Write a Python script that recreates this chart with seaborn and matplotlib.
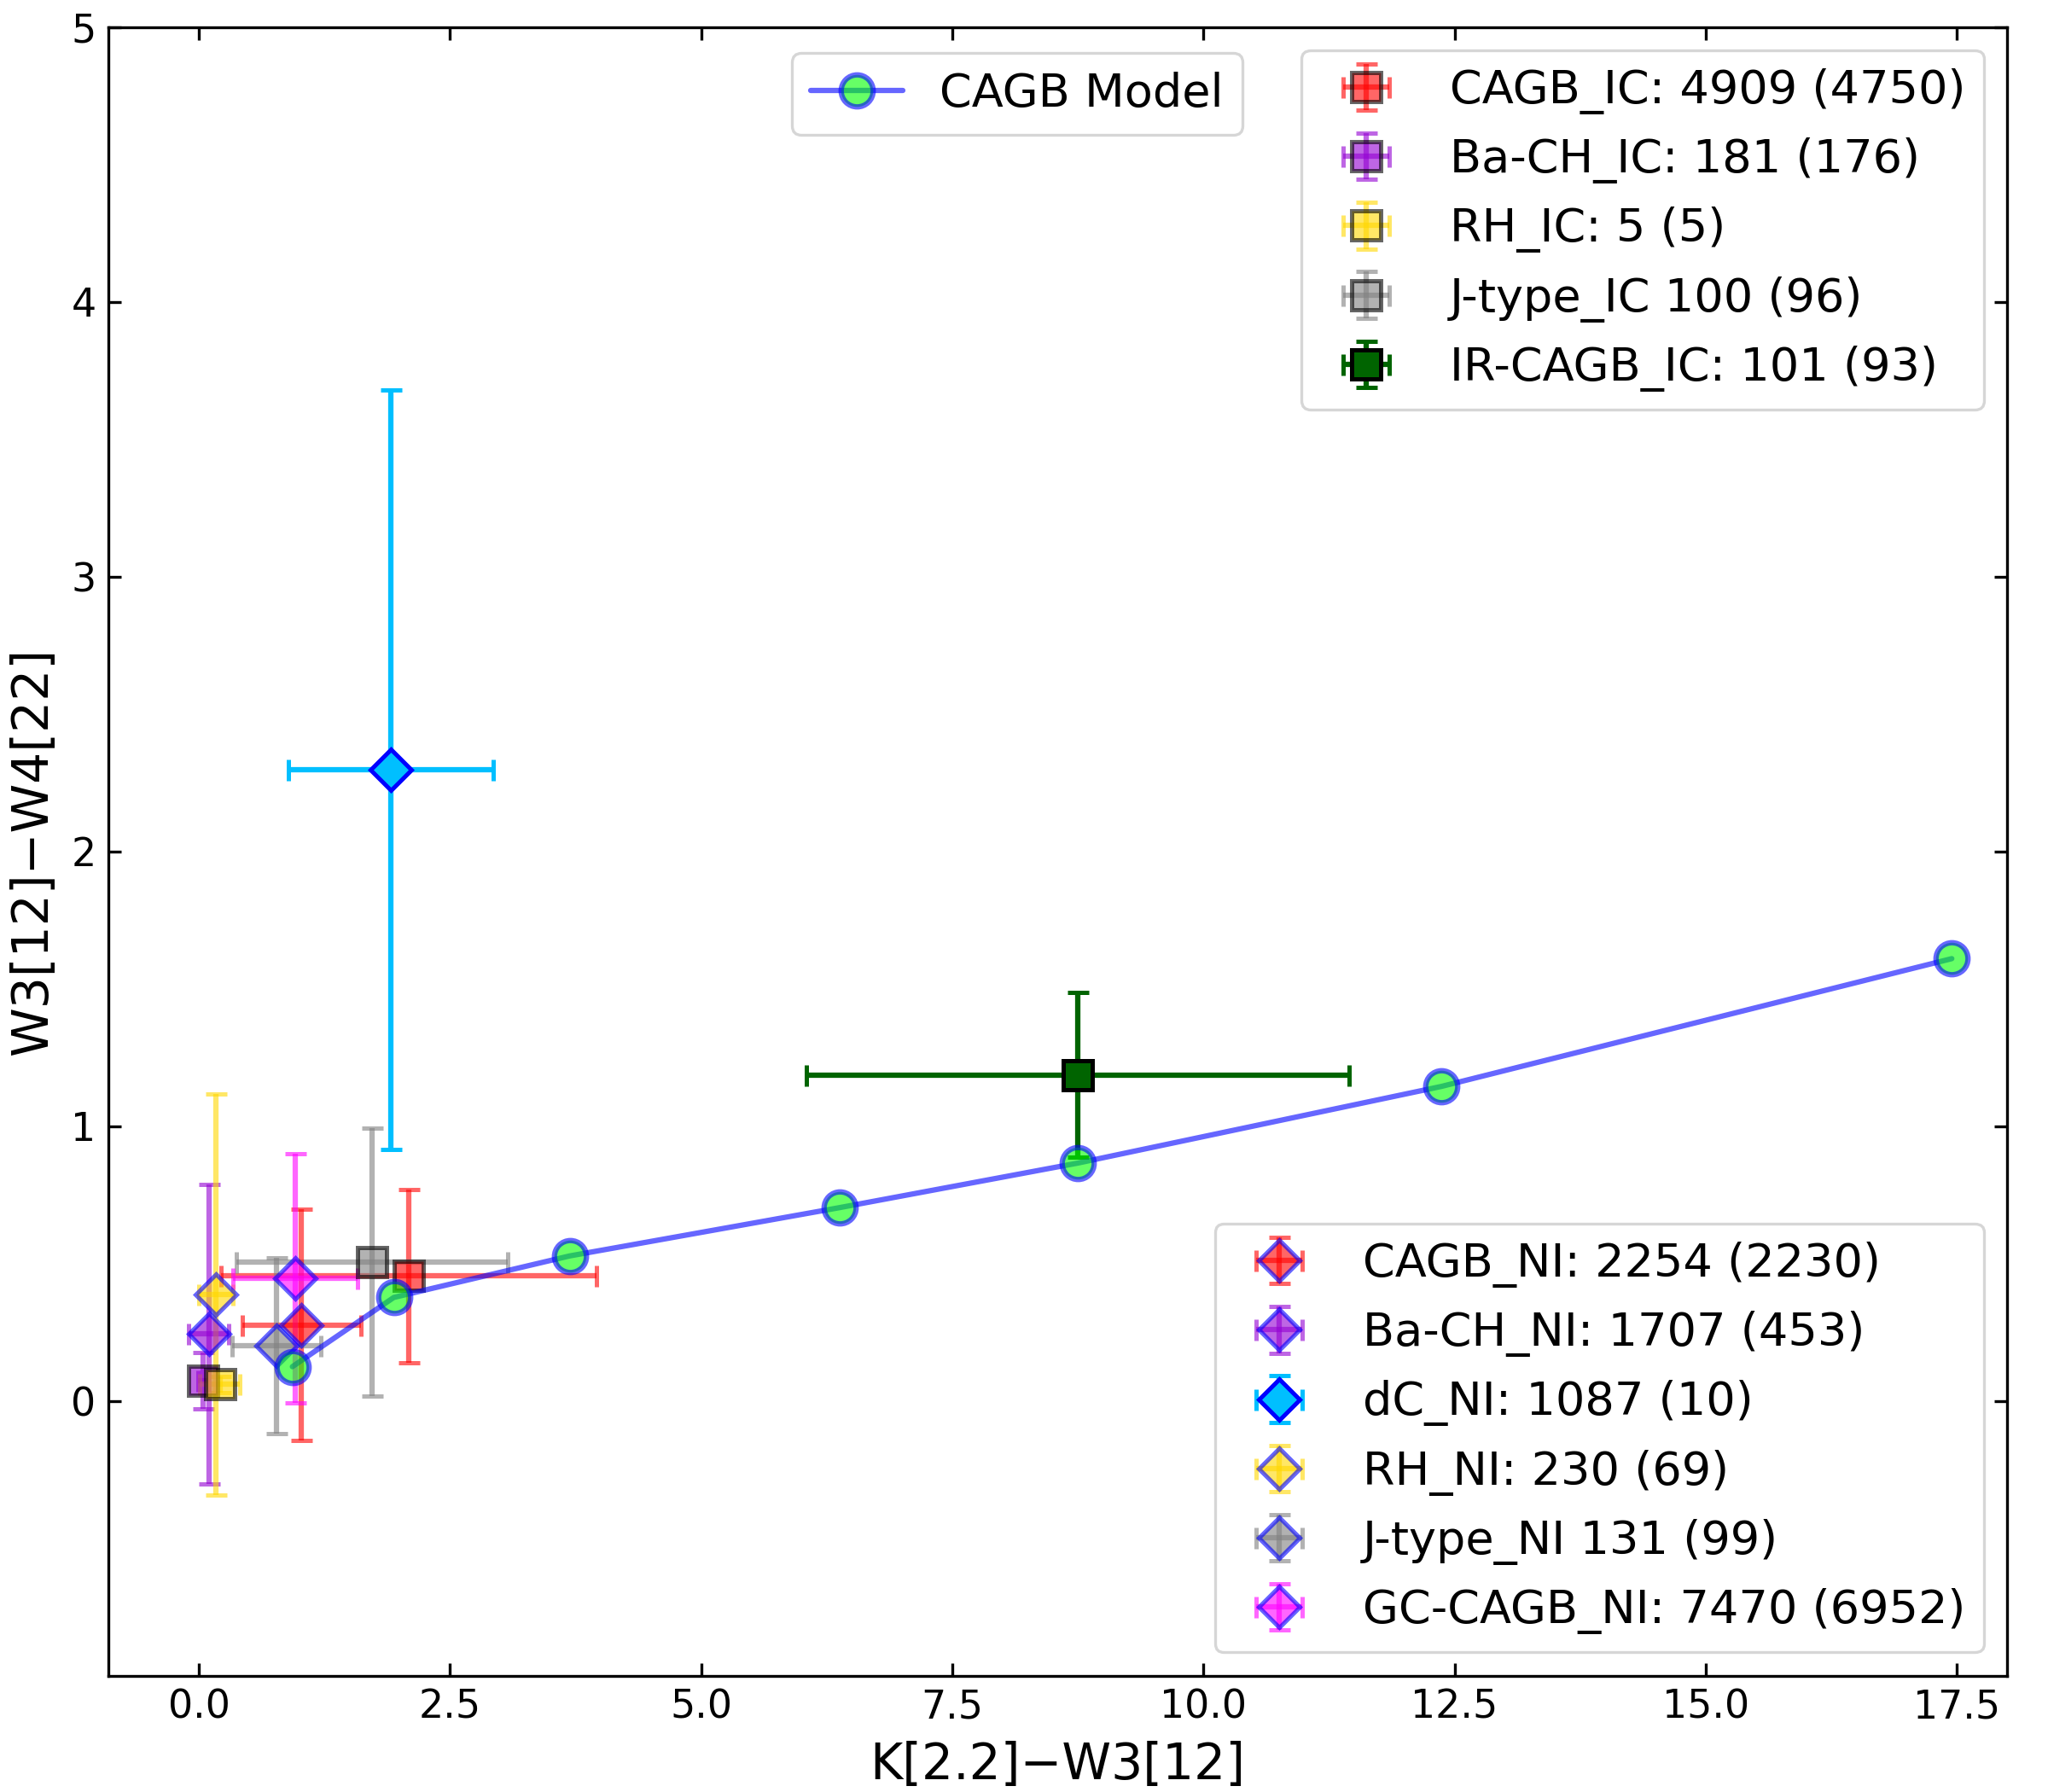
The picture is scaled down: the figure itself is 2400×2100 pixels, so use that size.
import numpy as np
import pandas as pd
import matplotlib
matplotlib.use("Agg")
import matplotlib.pyplot as plt
import seaborn as sns

# ---------------- data ----------------
model_x = [0.93, 1.94, 3.69, 6.38, 8.75, 12.37, 17.45]
model_y = [0.124, 0.376, 0.527, 0.703, 0.865, 1.144, 1.609]

ic_labels = ["CAGB_IC: 4909 (4750)", "Ba-CH_IC: 181 (176)", "RH_IC: 5 (5)",
             "J-type_IC 100 (96)", "IR-CAGB_IC: 101 (93)"]
ic_x = [2.09, 0.04, 0.21, 1.72, 8.75]
ic_y = [0.454, 0.072, 0.060, 0.505, 1.186]
ic_xerr = [1.87, 0.05, 0.20, 1.35, 2.70]
ic_yerr = [0.316, 0.103, 0.03, 0.488, 0.300]

ni_labels = ["CAGB_NI: 2254 (2230)", "Ba-CH_NI: 1707 (453)", "dC_NI: 1087 (10)",
             "RH_NI: 230 (69)", "J-type_NI 131 (99)", "GC-CAGB_NI: 7470 (6952)"]
ni_x = [1.02, 0.10, 1.91, 0.17, 0.77, 0.96]
ni_y = [0.276, 0.243, 2.297, 0.387, 0.200, 0.445]
ni_xerr = [0.59, 0.20, 1.02, 0.17, 0.44, 0.62]
ni_yerr = [0.42, 0.545, 1.383, 0.73, 0.32, 0.453]

# ---------------- styles ----------------
ic_colors = ["red", "darkviolet", "gold", "gray", "darkgreen"]
ic_edges = ["black", "black", "black", "black", "black"]
ic_alpha = [0.6, 0.6, 0.6, 0.6, 1.0]

ni_colors = ["red", "darkviolet", "deepskyblue", "gold", "gray", "magenta"]
ni_edges = ["blue"] * 6
ni_alpha = [0.6, 0.6, 1.0, 0.6, 0.6, 0.6]

sns.set_theme(context="paper", style="ticks")
plt.rcParams.update({
    "font.family": ["DejaVu Sans"],
    "lines.linewidth": 1.5,
    "axes.linewidth": 0.8,
    "axes.edgecolor": "black",
    "xtick.direction": "in",
    "ytick.direction": "in",
    "xtick.top": True,
    "ytick.right": True,
    "xtick.major.size": 3.5,
    "ytick.major.size": 3.5,
    "xtick.major.width": 0.8,
    "ytick.major.width": 0.8,
    "xtick.labelsize": 11,
    "ytick.labelsize": 11,
    "xtick.color": "black",
    "ytick.color": "black",
    "axes.labelcolor": "black",
    "text.color": "black",
})

fig, ax = plt.subplots(figsize=(8, 7), dpi=300)
fig.subplots_adjust(left=0.053, right=0.98, bottom=0.065, top=0.985)

ic_handles = []
for lab, x, y, xe, ye, c, ec, a in zip(ic_labels, ic_x, ic_y, ic_xerr, ic_yerr,
                                       ic_colors, ic_edges, ic_alpha):
    h = ax.errorbar(x, y, xerr=xe, yerr=ye, fmt="s", color=c, ecolor=c,
                    markerfacecolor=c, markeredgecolor=ec, markersize=8,
                    markeredgewidth=1.2, capsize=3, alpha=a, label=lab, zorder=3)
    ic_handles.append(h)

ni_handles = []
for lab, x, y, xe, ye, c, ec, a in zip(ni_labels, ni_x, ni_y, ni_xerr, ni_yerr,
                                       ni_colors, ni_edges, ni_alpha):
    h = ax.errorbar(x, y, xerr=xe, yerr=ye, fmt="D", color=c, ecolor=c,
                    markerfacecolor=c, markeredgecolor=ec, markersize=8,
                    markeredgewidth=1.2, capsize=3, alpha=a, label=lab, zorder=3)
    ni_handles.append(h)

model_df = pd.DataFrame({"x": model_x, "y": model_y})
sns.lineplot(data=model_df, x="x", y="y", ax=ax, sort=False, color="blue",
             alpha=0.6, linewidth=1.5, marker="o", markersize=9,
             markerfacecolor="lime", markeredgecolor="blue",
             markeredgewidth=1.5, label="CAGB Model", zorder=5)
model_handle = ax.get_lines()[-1]

ax.set_xlim(-0.9, 18.0)
ax.set_ylim(-1.0, 5.0)
ax.set_yticks([0, 1, 2, 3, 4, 5])
ax.set_xticks([0, 2.5, 5, 7.5, 10, 12.5, 15, 17.5])
ax.set_xlabel("K[2.2]\u2212W3[12]", fontsize=14)
ax.set_ylabel("W3[12]\u2212W4[22]", fontsize=14)

leg1 = ax.legend(handles=[model_handle], labels=["CAGB Model"], loc="upper left",
                 bbox_to_anchor=(0.36, 0.984), borderaxespad=0, fontsize=13)
ax.add_artist(leg1)
leg2 = ax.legend(handles=ic_handles, labels=ic_labels, loc="upper right", fontsize=13)
ax.add_artist(leg2)
leg3 = ax.legend(handles=ni_handles, labels=ni_labels, loc="lower right", fontsize=13)

fig.savefig("out.png", dpi=300)
